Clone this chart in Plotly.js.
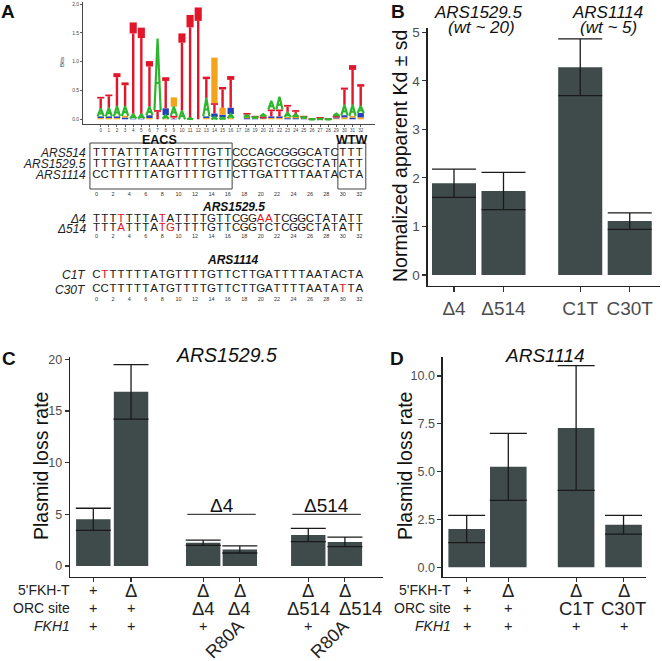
<!DOCTYPE html>
<html><head><meta charset="utf-8">
<script src="https://cdn.plot.ly/plotly-3.0.1.min.js"></script>
<style>body{margin:0;background:#fff}</style>
</head><body><div id="chart" style="width:662px;height:661px"></div>
<script>
// ---------------- DATA ----------------
// Panel A: sequence logo (bits per base at positions 0..32)
const logoPos = [0,1,2,3,4,5,6,7,8,9,10,11,12,13,14,15,16,17,18,19,20,21,22,23,24,25,26,27,28,29,30,31,32];
const logoA = [0.14,0.15,0.18,0.17,0.08,0.08,0.15,1.24,0.06,0.16,0.15,0.02,0.00,0.32,0.04,0.03,0.07,0,0.03,0.02,0.04,0.15,0.22,0.08,0.05,0.02,0.005,0.01,0.005,0.04,0.18,0.19,0.12];
const logoC = [0.03,0.03,0.03,0.03,0.01,0.01,0.05,0.00,0.12,0.01,0.00,0.00,0.00,0.03,0.06,0.05,0.11,0,0.02,0.01,0.02,0.03,0.03,0.02,0.02,0.01,0.005,0.01,0.005,0.02,0.04,0.03,0.08];
const logoG = [0.02,0.02,0.02,0.03,0.00,0.00,0.02,0.00,0.01,0.16,0.00,0.00,0.00,0.02,0.79,0.12,0.02,0,0.02,0.01,0.01,0.02,0.02,0.02,0.02,0.01,0.005,0.01,0.005,0.01,0.03,0.03,0.03];
const logoT = [0.20,0.23,0.57,0.41,1.59,1.50,0.79,0.16,0.54,0.05,1.34,1.79,1.94,0.37,0.18,0.36,0.55,0,0.04,0.02,0.02,0.12,0.12,0.13,0.07,0.02,0.005,0.01,0.005,0.03,0.30,0.69,0.38];
const logoYTicks = [0, 0.5, 1, 1.5, 2];

// Panel A: sequences
const wtNames = ['ARS514', 'ARS1529.5', 'ARS1114'];
const wtSeqs = ['TTTATTTATGTTTTGTTCCCAGCGGGCATCTTT',
                'TTTGTTTAAATTTTGTTCGGTCTCGGCTATATT',
                'CCTTTTTATGTTTTGTTCTTGATTTTAATACTA'];
const mut1Title = 'ARS1529.5';
const mut1Names = ['Δ4', 'Δ514'];
const mut1Seqs = ['TTTTTTTATATTTTGTTCGGAATCGGCTATATT',
                  'TTTATTTATGTTTTGTTCGGTCTCGGCTATATT'];
const mut1Red = [[3, 8, 20, 21], [3, 8, 9]];
const mut2Title = 'ARS1114';
const mut2Names = ['C1T', 'C30T'];
const mut2Seqs = ['CTTTTTTATGTTTTGTTCTTGATTTTAATACTA',
                  'CCTTTTTATGTTTTGTTCTTGATTTTAATATTA'];
const mut2Red = [[1], [30]];
const seqTicks = [0,2,4,6,8,10,12,14,16,18,20,22,24,26,28,30,32];

// Panel B: normalized apparent Kd
const bLabels = ['Δ4', 'Δ514', 'C1T', 'C30T'];
const bVals = [1.89, 1.73, 4.28, 1.11];
const bSd = [0.29, 0.385, 0.585, 0.17];
const bYTicks = [0, 1, 2, 3, 4, 5];

// Panel C: plasmid loss, ARS1529.5
const cVals = [4.52, 16.85, 2.25, 1.60, 3.00, 2.33];
const cErr = [1.07, 2.63, 0.25, 0.34, 0.65, 0.46];
const cRowFKHT = ['+', 'Δ', 'Δ', 'Δ', 'Δ', 'Δ'];
const cRowORC = ['+', '+', 'Δ4', 'Δ4', 'Δ514', 'Δ514'];
const cRowFKH1 = ['+', '+', '+', 'R80A', '+', 'R80A'];
const cGroups = ['Δ4', 'Δ514'];
const cYTicks = [0, 5, 10, 15, 20];

// Panel D: plasmid loss, ARS1114
const dVals = [2.00, 5.25, 7.28, 2.22];
const dErr = [0.71, 1.75, 3.26, 0.49];
const dRowFKHT = ['+', 'Δ', 'Δ', 'Δ'];
const dRowORC = ['+', '+', 'C1T', 'C30T'];
const dRowFKH1 = ['+', '+', '+', '+'];
const dYTicks = [0, 2.5, 5, 7.5, 10];
const rowNames = ["5'FKH-T", 'ORC site', '<i>FKH1</i>'];

// ---------------- LAYOUT HELPERS ----------------
const FONT = 'Liberation Sans, Arial, Helvetica, sans-serif';
const W = 662, H = 661;
const fx = p => p / W;
const fy = p => 1 - p / H;
function xr(lo, hi, p0, s) { return [(lo - p0) / s, (hi - p0) / s]; }
function yr(bot, top, p0, s) { return [(p0 - bot) / s, (p0 - top) / s]; }
const BAR = '#3f4a4a';
const RED = '#e0141e';
const COL = {A: '#2db52d', C: '#2440c0', G: '#f4a31c', T: '#e2162b'};
// category slots (layout positions)
const bSlots = [0, 1, 2.55, 3.55];
const cSlots = [0, 1.02, 2.97, 3.96, 5.81, 6.8];
const dSlots = [0, 1, 2.63, 3.77];

const traces = [];
const shapes = [];
const annotations = [];

// ---------------- PANEL A LOGO ----------------
const stack = {A: {x: [], b: [], h: []}, C: {x: [], b: [], h: []}, G: {x: [], b: [], h: []}, T: {x: [], b: [], h: []}};
logoPos.forEach((p, i) => {
  const ent = [['A', logoA[i]], ['C', logoC[i]], ['G', logoG[i]], ['T', logoT[i]]].sort((a, b) => a[1] - b[1]);
  let base = 0;
  ent.forEach(([L, h]) => {
    if (h > 0) { stack[L].x.push(p); stack[L].b.push(base); stack[L].h.push(h); }
    base += h;
  });
});
['C', 'G'].forEach(L => {
  traces.push({type: 'bar', x: stack[L].x, y: stack[L].h, base: stack[L].b, width: 0.78,
    marker: {color: COL[L], line: {width: 0}}, xaxis: 'x', yaxis: 'y', hoverinfo: 'skip'});
});
// T: stem + cap
const tCap = stack.T.h.map(h => Math.max(0.12 * h, 0.03));
traces.push({type: 'bar', x: stack.T.x, y: stack.T.h.map((h, i) => h - tCap[i]), base: stack.T.b, width: 0.3,
  marker: {color: COL.T, line: {width: 0}}, xaxis: 'x', yaxis: 'y', hoverinfo: 'skip'});
traces.push({type: 'bar', x: stack.T.x, y: tCap, base: stack.T.b.map((b, i) => b + stack.T.h[i] - tCap[i]), width: 0.88,
  marker: {color: COL.T, line: {width: 0}}, xaxis: 'x', yaxis: 'y', hoverinfo: 'skip'});
// A: drawn as a stroked glyph
const ax = [], ay = [];
stack.A.x.forEach((p, i) => {
  const b = stack.A.b[i], h = stack.A.h[i];
  ax.push(p - 0.38, p, p + 0.38, null, p - 0.2, p + 0.2, null);
  ay.push(b, b + h, b, null, b + 0.38 * h, b + 0.38 * h, null);
});
traces.push({type: 'scatter', mode: 'lines', x: ax, y: ay, line: {color: COL.A, width: 2.2},
  xaxis: 'x', yaxis: 'y', hoverinfo: 'skip', connectgaps: false});

// ---------------- PANEL A SEQUENCES ----------------
function seqTrace(seq, yPx, red) {
  const ch = seq.split('');
  return {type: 'scatter', mode: 'text', x: ch.map((_, i) => i), y: ch.map(() => yPx), text: ch,
    textfont: {family: FONT, size: 11.5, color: ch.map((_, i) => red.includes(i) ? RED : '#1a1a1a')},
    textposition: 'middle center', xaxis: 'x2', yaxis: 'y2', hoverinfo: 'skip', cliponaxis: false};
}
function tickTrace(yPx) {
  return {type: 'scatter', mode: 'text', x: seqTicks, y: seqTicks.map(() => yPx), text: seqTicks.map(String),
    textfont: {family: FONT, size: 5.5, color: '#333333'}, xaxis: 'x2', yaxis: 'y2', hoverinfo: 'skip', cliponaxis: false};
}
const wtRowY = [153, 164, 175];
wtSeqs.forEach((s, i) => traces.push(seqTrace(s, wtRowY[i], [])));
traces.push(tickTrace(195));
const m1Y = [219, 228.5];
mut1Seqs.forEach((s, i) => traces.push(seqTrace(s, m1Y[i], mut1Red[i])));
traces.push(tickTrace(236.5));
const m2Y = [275, 289.5];
mut2Seqs.forEach((s, i) => traces.push(seqTrace(s, m2Y[i], mut2Red[i])));
traces.push(tickTrace(299.5));

const labelFont = {family: FONT, size: 12, color: '#222'};
function ann(text, x, y, o = {}) {
  annotations.push(Object.assign({text, x: fx(x), y: fy(y), xref: 'paper', yref: 'paper', showarrow: false,
    xanchor: 'center', yanchor: 'middle', font: labelFont}, o));
}
wtNames.forEach((n, i) => ann('<i>' + n + '</i>', 87.5, wtRowY[i], {xanchor: 'right'}));
mut1Names.forEach((n, i) => ann('<i>' + n + '</i>', 87.5, m1Y[i], {xanchor: 'right'}));
mut2Names.forEach((n, i) => ann('<i>' + n + '</i>', 87.5, m2Y[i], {xanchor: 'right'}));
ann('<b><i>' + mut1Title + '</i></b>', 233, 207, {font: {family: FONT, size: 12, color: '#111'}});
ann('<b><i>' + mut2Title + '</i></b>', 233, 260, {font: {family: FONT, size: 12, color: '#111'}});
ann('<b>EACS</b>', 159, 139.5, {font: {family: FONT, size: 12.5, color: '#111'}});
ann('<b>WTW</b>', 351, 139.5, {font: {family: FONT, size: 12.5, color: '#111'}});
shapes.push({type: 'rect', xref: 'x2', yref: 'y2', x0: -0.8, x1: 16.52, y0: 143, y1: 189, line: {color: '#444', width: 1}});
shapes.push({type: 'rect', xref: 'x2', yref: 'y2', x0: 29.4, x1: 32.8, y0: 143, y1: 189, line: {color: '#444', width: 1}});
ann('Bits', 62, 62, {textangle: -90, font: {family: FONT, size: 6, color: '#333'}});

// ---------------- PANEL B ----------------
const errStyle = (arr, w) => ({type: 'data', array: arr, visible: true, color: '#1a1a1a', thickness: 1.3, width: w});
traces.push({type: 'bar', x: bSlots, y: bVals, width: 0.89, marker: {color: BAR, line: {width: 0}},
  error_y: errStyle(bSd, 22), xaxis: 'x3', yaxis: 'y3', hoverinfo: 'skip'});
const titleFont = s => ({family: FONT, size: s, color: '#111'});
ann('<i>ARS1529.5</i>', 478, 12.5, {font: titleFont(17)});
ann('<i>(wt ~ 20)</i>', 481, 28, {font: titleFont(17)});
ann('<i>ARS1114</i>', 607, 12.5, {font: titleFont(17)});
ann('<i>(wt ~ 5)</i>', 608, 28, {font: titleFont(17)});
ann('Normalized apparent Kd ± sd', 400, 156, {textangle: -90, font: titleFont(19.5)});

// ---------------- PANEL C ----------------
traces.push({type: 'bar', x: cSlots, y: cVals, width: 0.93, marker: {color: BAR, line: {width: 0}},
  error_y: errStyle(cErr, 17.5), xaxis: 'x4', yaxis: 'y4', hoverinfo: 'skip'});
ann('<i>ARS1529.5</i>', 227, 355, {font: titleFont(19.5)});
ann('Plasmid loss rate', 41, 466, {textangle: -90, font: titleFont(19.5)});
[[2, 3], [4, 5]].forEach((g, k) => {
  const x0 = cSlots[g[0]] - 0.43, x1 = cSlots[g[1]] + 0.43;
  shapes.push({type: 'line', xref: 'x4', yref: 'y4', x0, x1, y0: 5, y1: 5, line: {color: '#444', width: 1.2}});
  annotations.push({text: cGroups[k], xref: 'x4', yref: 'y4', x: (x0 + x1) / 2, y: 5.85, showarrow: false,
    xanchor: 'center', yanchor: 'middle', font: titleFont(19)});
});

// ---------------- PANEL D ----------------
traces.push({type: 'bar', x: dSlots, y: dVals, width: 0.88, marker: {color: BAR, line: {width: 0}},
  error_y: errStyle(dErr, 18.5), xaxis: 'x5', yaxis: 'y5', hoverinfo: 'skip'});
ann('<i>ARS1114</i>', 545, 355, {font: titleFont(19)});
ann('Plasmid loss rate', 405, 466, {textangle: -90, font: titleFont(19.5)});

// ---------------- CONDITION ROWS (C, D) ----------------
const rowY = [590, 608, 626];
function rowAnn(vals, slots, xref, yPx, opts = {}) {
  vals.forEach((v, i) => {
    const big = v !== '+';
    const o = {text: v, xref, yref: 'paper', x: slots[i], y: fy(yPx), showarrow: false, xanchor: 'center', yanchor: 'middle',
      font: {family: FONT, size: big ? 18.5 : 14.5, color: '#222'}};
    if (v === 'R80A') { o.textangle = -45; o.xshift = -15; o.yshift = -13; o.font.size = 18; }
    if (opts.shiftLast && i === vals.length - 1 && v.length > 2) { o.xshift = 16; }
    annotations.push(o);
  });
}
rowAnn(cRowFKHT, cSlots, 'x4', rowY[0]);
rowAnn(cRowORC, cSlots, 'x4', rowY[1], {shiftLast: true});
rowAnn(cRowFKH1, cSlots, 'x4', rowY[2]);
rowAnn(dRowFKHT, dSlots, 'x5', rowY[0]);
rowAnn(dRowORC, dSlots, 'x5', rowY[1]);
rowAnn(dRowFKH1, dSlots, 'x5', rowY[2]);
rowNames.forEach((n, i) => {
  ann(n, 72, rowY[i], {xanchor: 'right', font: {family: FONT, size: 14, color: '#222'}});
  ann(n, 453, rowY[i], {xanchor: 'right', font: {family: FONT, size: 14, color: '#222'}});
});

// Panel letters
[['A', 8, 12], ['B', 398, 11], ['C', 8.5, 358], ['D', 397, 358]].forEach(([t, x, y]) =>
  ann('<b>' + t + '</b>', x, y, {font: {family: FONT, size: 19, color: '#111'}}));

// ---------------- AXES ----------------
const base = {showline: true, linecolor: '#222', linewidth: 1.3, showgrid: false, zeroline: false, ticks: 'outside',
  ticklen: 4, tickcolor: '#333', tickwidth: 1.1, tickfont: {family: FONT, size: 13, color: '#4d4d4d'}, fixedrange: true};
const layout = {
  width: W, height: H, margin: {l: 0, r: 0, t: 0, b: 0}, showlegend: false, barmode: 'overlay',
  paper_bgcolor: '#fff', plot_bgcolor: 'rgba(0,0,0,0)', font: {family: FONT},
  xaxis: Object.assign({}, base, {domain: [fx(83), fx(375)], range: xr(83, 375, 100.7, 8.125), anchor: 'y',
    tickvals: logoPos, ticktext: logoPos.map(String), ticklen: 2, tickwidth: 0.8, linewidth: 0.9, linecolor: '#333',
    tickfont: {family: FONT, size: 4.6, color: '#444'}}),
  yaxis: Object.assign({}, base, {domain: [fy(124), fy(2)], range: yr(124, 2, 119.3, 57.65), anchor: 'x',
    tickvals: logoYTicks, ticktext: logoYTicks.map(v => v.toFixed(1)), ticklen: 2, tickwidth: 0.8, linewidth: 0.9, linecolor: '#333',
    tickfont: {family: FONT, size: 5, color: '#444'}}),
  xaxis2: {domain: [0, fx(380)], range: xr(0, 380, 96.5, 8.21), anchor: 'y2', visible: false, fixedrange: true},
  yaxis2: {domain: [fy(310), fy(128)], range: [310, 128], anchor: 'x2', visible: false, fixedrange: true},
  xaxis3: Object.assign({}, base, {domain: [fx(427.7), fx(660)], range: xr(427.7, 660, 454, 49.5), anchor: 'y3',
    tickvals: bSlots, ticktext: bLabels, ticklen: 5, tickfont: {family: FONT, size: 19, color: '#4d4d4d'}}),
  yaxis3: Object.assign({}, base, {domain: [fy(286), fy(28)], range: yr(286, 28, 275, 48.54), anchor: 'x3',
    tickvals: bYTicks, ticktext: bYTicks.map(String), tickfont: {family: FONT, size: 13.5, color: '#4d4d4d'}}),
  xaxis4: Object.assign({}, base, {domain: [fx(70), fx(383)], range: xr(70, 383, 93.3, 37), anchor: 'y4',
    tickvals: cSlots, showticklabels: false, ticklen: 4}),
  yaxis4: Object.assign({}, base, {domain: [fy(576.7), fy(356.7)], range: yr(576.7, 356.7, 566, 10.335), anchor: 'x4',
    tickvals: cYTicks, ticktext: cYTicks.map(String), tickfont: {family: FONT, size: 12.5, color: '#4d4d4d'}}),
  xaxis5: Object.assign({}, base, {domain: [fx(442.7), fx(646)], range: xr(442.7, 646, 466.7, 41.6), anchor: 'y5',
    tickvals: dSlots, showticklabels: false, ticklen: 4}),
  yaxis5: Object.assign({}, base, {domain: [fy(576.7), fy(356.7)], range: yr(576.7, 356.7, 567.3, 19.13), anchor: 'x5',
    tickvals: dYTicks, ticktext: dYTicks.map(v => v.toFixed(1)), tickfont: {family: FONT, size: 12.5, color: '#4d4d4d'}}),
  shapes, annotations
};
Plotly.newPlot('chart', traces, layout, {staticPlot: true, displayModeBar: false});
</script></body></html>
